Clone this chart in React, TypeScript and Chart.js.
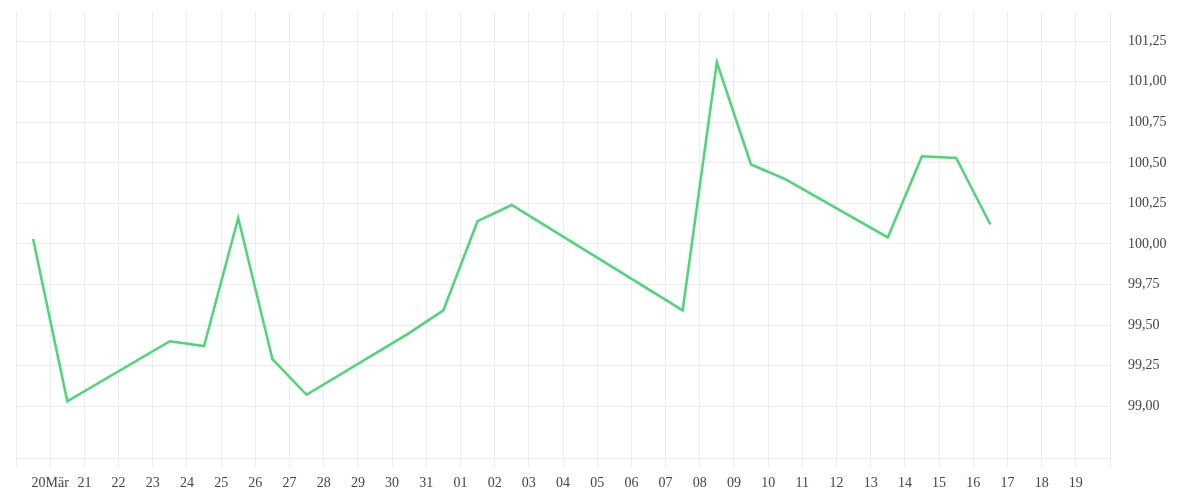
import { useEffect, useRef } from 'react';
import { Chart, registerables } from 'chart.js';

Chart.register(...registerables);

// trading days (values sit at midday)
const dates = [
  '2015-03-19', '2015-03-20', '2015-03-23', '2015-03-24', '2015-03-25',
  '2015-03-26', '2015-03-27', '2015-03-30', '2015-03-31', '2015-04-01',
  '2015-04-02', '2015-04-07', '2015-04-08', '2015-04-09', '2015-04-10',
  '2015-04-13', '2015-04-14', '2015-04-15', '2015-04-16',
];
const values = [
  100.03, 99.03, 99.4, 99.37, 100.16, 99.29, 99.07, 99.45, 99.59, 100.14,
  100.24, 99.59, 101.12, 100.49, 100.4, 100.04, 100.54, 100.53, 100.12,
];

// one tick per day from 19 Mar to 20 Apr
const xTickLabels = [
  '', '20Mär', '21', '22', '23', '24', '25', '26', '27', '28', '29', '30', '31',
  '01', '02', '03', '04', '05', '06', '07', '08', '09', '10', '11', '12', '13',
  '14', '15', '16', '17', '18', '19', '',
];
const yTickValues = [99, 99.25, 99.5, 99.75, 100, 100.25, 100.5, 100.75, 101, 101.25];

const DAY = 86400000;
const axisStart = Date.UTC(2015, 2, 19);
const toDay = (d: string) => (Date.parse(d + 'T12:00:00Z') - axisStart) / DAY;

const gridColor = '#ececec';

export default function App() {
  const canvasRef = useRef<HTMLCanvasElement>(null);

  useEffect(() => {
    if (!canvasRef.current) return;

    Chart.defaults.font.family = "'Liberation Serif', 'Times New Roman', serif";
    Chart.defaults.font.size = 14;
    Chart.defaults.color = '#444';

    const chart = new Chart(canvasRef.current, {
      type: 'line',
      data: {
        datasets: [
          {
            data: dates.map((d, i) => ({ x: toDay(d), y: values[i] })),
            borderColor: '#4cd677',
            borderWidth: 2.5,
            pointRadius: 0,
            tension: 0,
            fill: false,
          },
        ],
      },
      options: {
        animation: false,
        responsive: true,
        maintainAspectRatio: false,
        layout: { padding: { left: 7, top: 4 } },
        plugins: {
          legend: { display: false },
          tooltip: { enabled: false },
        },
        scales: {
          x: {
            type: 'linear',
            min: 0,
            max: xTickLabels.length - 1,
            afterBuildTicks: (axis: any) => {
              axis.ticks = xTickLabels.map((_, i) => ({ value: i }));
            },
            afterFit: (axis: any) => {
              axis.height = 32;
            },
            grid: { color: gridColor, tickLength: 9 },
            border: { color: gridColor },
            ticks: {
              autoSkip: false,
              maxRotation: 0,
              padding: 8,
              callback: (_v: any, i: number) => xTickLabels[i],
            },
          },
          y: {
            position: 'right',
            min: 98.68,
            max: 101.43,
            afterBuildTicks: (axis: any) => {
              axis.ticks = yTickValues.map((v) => ({ value: v }));
            },
            afterFit: (axis: any) => {
              axis.width = 82;
              axis.paddingTop = 0;
              axis.paddingBottom = 0;
            },
            grid: { color: gridColor, drawTicks: false },
            border: { color: gridColor },
            ticks: {
              padding: 18,
              callback: (v: any) => Number(v).toFixed(2).replace('.', ','),
            },
          },
        },
      },
    });

    return () => chart.destroy();
  }, []);

  return (
    <div style={{ position: 'relative', height: 482 }}>
      <canvas ref={canvasRef}></canvas>
    </div>
  );
}
